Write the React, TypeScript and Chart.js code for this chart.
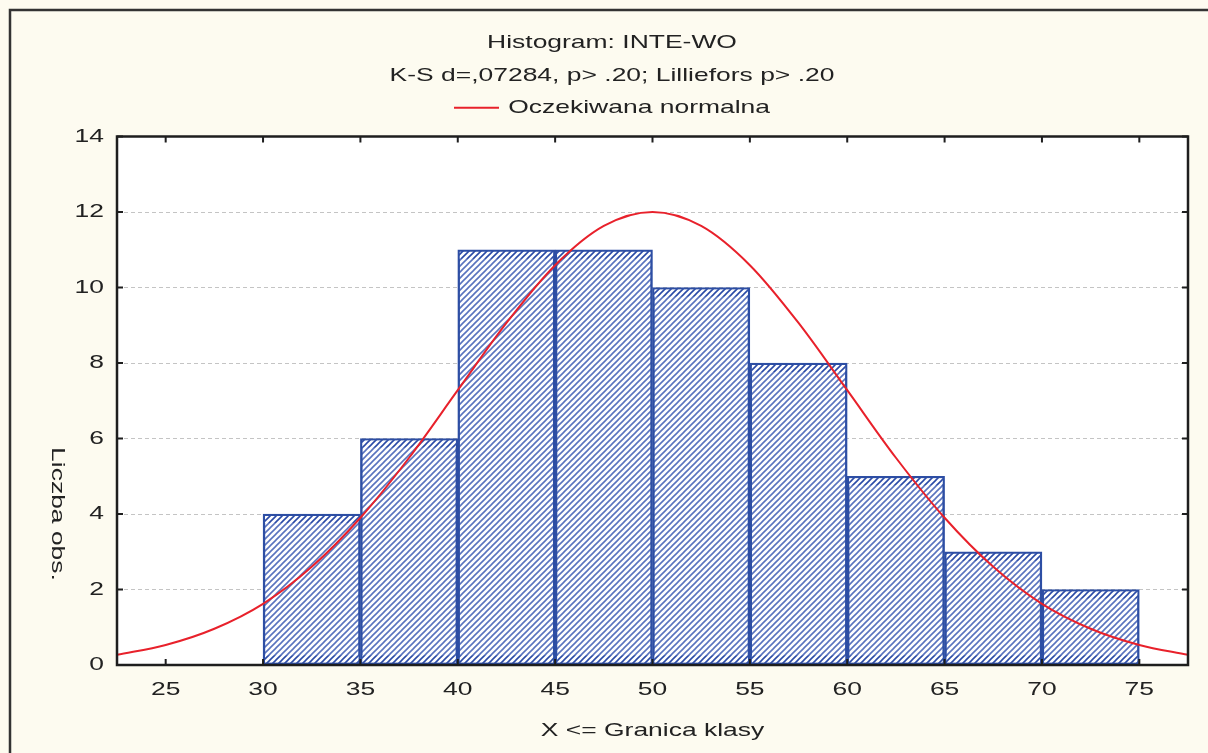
import { useEffect, useRef } from "react";
import { Chart, registerables } from "chart.js";

Chart.register(...registerables);

// Histogram classes (upper bound X <= Granica klasy), centers and counts
const classCenters = [27.5, 32.5, 37.5, 42.5, 47.5, 52.5, 57.5, 62.5, 67.5, 72.5];
const classCounts = [0, 4, 6, 11, 11, 10, 8, 5, 3, 2];

// Expected normal curve
const curveX = [22.5, 25, 27.5, 30, 32.5, 35, 37.5, 40, 42.5, 45, 47.5, 50, 52.5, 55, 57.5, 60, 62.5, 65, 67.5, 70, 72.5, 75, 77.5];
const curveY = [0.27, 0.53, 0.96, 1.62, 2.6, 3.9, 5.49, 7.28, 9.06, 10.59, 11.63, 12.0, 11.63, 10.59, 9.06, 7.28, 5.49, 3.9, 2.6, 1.62, 0.96, 0.53, 0.27];

const xTicks = [25, 30, 35, 40, 45, 50, 55, 60, 65, 70, 75];
const yTicks = [0, 2, 4, 6, 8, 10, 12, 14];

const titleLines = ["Histogram: INTE-WO", "K-S d=,07284, p> .20; Lilliefors p> .20"];
const legendLabel = "Oczekiwana normalna";
const xTitle = "X <= Granica klasy";
const yTitle = "Liczba obs.";

const FONT = "'Liberation Sans', Arial, sans-serif";
const FS = 18.5;
const TEXT = "#222222";
const STRETCH = 1.43; // the reference text is set in a wide face

function makePattern(size: number, color: string, lw: number, bg: string): CanvasPattern | string {
  const c = document.createElement("canvas");
  c.width = size;
  c.height = size;
  const g = c.getContext("2d");
  if (!g) return color;
  g.fillStyle = bg;
  g.fillRect(0, 0, size, size);
  g.strokeStyle = color;
  g.lineWidth = lw;
  g.beginPath();
  g.moveTo(-1, size + 1);
  g.lineTo(size + 1, -1);
  g.moveTo(-1, 1);
  g.lineTo(1, -1);
  g.moveTo(size - 1, size + 1);
  g.lineTo(size + 1, size - 1);
  g.stroke();
  const p = g.createPattern(c, "repeat");
  return p || color;
}

// widen all text drawn on this canvas horizontally
function widenText(ctx: any) {
  if (ctx.__widened) return;
  ctx.__widened = true;
  const origFill = ctx.fillText.bind(ctx);
  const origMeasure = ctx.measureText.bind(ctx);
  ctx.measureText = (t: string) => {
    const m = origMeasure(t);
    return {
      width: m.width * STRETCH,
      actualBoundingBoxAscent: m.actualBoundingBoxAscent,
      actualBoundingBoxDescent: m.actualBoundingBoxDescent,
      actualBoundingBoxLeft: m.actualBoundingBoxLeft * STRETCH,
      actualBoundingBoxRight: m.actualBoundingBoxRight * STRETCH,
    };
  };
  ctx.fillText = (t: string, x: number, y: number, maxW?: number) => {
    ctx.save();
    ctx.translate(x, y);
    ctx.scale(STRETCH, 1);
    if (maxW !== undefined) origFill(t, 0, 0, maxW / STRETCH);
    else origFill(t, 0, 0);
    ctx.restore();
  };
}

const framePlugin = {
  id: "framePlugin",
  beforeDraw(chart: any) {
    const { ctx, width, height, chartArea } = chart;
    ctx.save();
    ctx.fillStyle = "#fdfbf0";
    ctx.fillRect(0, 0, width, height);
    ctx.strokeStyle = "#333333";
    ctx.lineWidth = 2.5;
    ctx.beginPath();
    ctx.moveTo(10, height);
    ctx.lineTo(10, 10);
    ctx.lineTo(width, 10);
    ctx.stroke();
    ctx.fillStyle = "#ffffff";
    ctx.fillRect(chartArea.left, chartArea.top, chartArea.right - chartArea.left, chartArea.bottom - chartArea.top);
    ctx.restore();
  },
  afterDatasetDraw(chart: any, args: any) {
    if (args.index !== 1) return;
    // darker dotted strips along top and bottom inside each bar
    const { ctx } = chart;
    const strip = (chart as any).$strip;
    if (!strip) return;
    ctx.save();
    ctx.fillStyle = strip;
    args.meta.data.forEach((bar: any) => {
      const p = bar.getProps(["x", "y", "base", "width"], true);
      const h = p.base - p.y;
      if (h < 20) return;
      const l = p.x - p.width / 2 + 2;
      const w = p.width - 4;
      ctx.fillRect(l, p.y + 2, w, 7);
      ctx.fillRect(l, p.base - 9, w, 7);
    });
    ctx.restore();
  },
  afterDraw(chart: any) {
    const { ctx, chartArea } = chart;
    const xs = chart.scales.x;
    const ys = chart.scales.y;
    const { left, right, top, bottom } = chartArea;
    ctx.save();
    ctx.strokeStyle = "#1e1e1e";
    ctx.lineWidth = 2;
    const tl = 6;
    ctx.beginPath();
    xTicks.forEach((v) => {
      const px = xs.getPixelForValue(v);
      ctx.moveTo(px, top);
      ctx.lineTo(px, top + tl);
      ctx.moveTo(px, bottom);
      ctx.lineTo(px, bottom - tl);
    });
    yTicks.forEach((v) => {
      const py = ys.getPixelForValue(v);
      ctx.moveTo(left, py);
      ctx.lineTo(left + tl, py);
      ctx.moveTo(right, py);
      ctx.lineTo(right - tl, py);
    });
    ctx.stroke();
    ctx.lineWidth = 2.5;
    ctx.strokeRect(left, top, right - left, bottom - top);
    // rotated y-axis title (reads top to bottom)
    ctx.fillStyle = TEXT;
    ctx.font = `${FS}px ${FONT}`;
    ctx.textAlign = "center";
    ctx.textBaseline = "middle";
    ctx.translate(57, ys.getPixelForValue(4));
    ctx.rotate(Math.PI / 2);
    ctx.fillText(yTitle, 0, 0);
    ctx.restore();
  },
};

export default function App() {
  const ref = useRef<HTMLCanvasElement | null>(null);

  useEffect(() => {
    if (!ref.current) return;
    const c2d = ref.current.getContext("2d");
    if (c2d) widenText(c2d);
    const hatch = makePattern(6, "rgba(52,84,176,0.82)", 1.6, "#ffffff");
    const strip = makePattern(6, "#2a4aa6", 1.6, "#ffffff");
    const chart = new Chart(ref.current, {
      type: "bar",
      data: {
        datasets: [
          {
            type: "line",
            label: legendLabel,
            data: curveX.map((x, i) => ({ x, y: curveY[i] })),
            borderColor: "#e8212b",
            borderWidth: 2,
            pointRadius: 0,
            cubicInterpolationMode: "monotone",
            fill: false,
            order: 0,
          } as any,
          {
            type: "bar",
            label: "Liczba obs.",
            data: classCenters.map((x, i) => ({ x, y: classCounts[i] })),
            backgroundColor: hatch as any,
            borderColor: "#2d4ea4",
            borderWidth: 2.5,
            borderSkipped: false,
            barPercentage: 1,
            categoryPercentage: 1,
            order: 1,
          } as any,
        ],
      },
      options: {
        animation: false,
        responsive: false,
        maintainAspectRatio: false,
        layout: { padding: { left: 36, right: 20, top: 0, bottom: 0 } },
        plugins: {
          tooltip: { enabled: false },
          title: {
            display: true,
            text: titleLines,
            color: TEXT,
            font: { family: FONT, size: FS, weight: "normal", lineHeight: "33px" },
            padding: { top: 26, bottom: 0 },
          },
          legend: {
            display: true,
            position: "top",
            labels: {
              filter: (item: any) => item.datasetIndex === 0,
              usePointStyle: true,
              pointStyle: "line",
              pointStyleWidth: 45,
              color: TEXT,
              padding: 6.5,
              font: { family: FONT, size: FS },
            },
          },
        },
        scales: {
          x: {
            type: "linear",
            position: "bottom",
            offset: false,
            min: 22.5,
            max: 77.5,
            afterBuildTicks: (s: any) => {
              s.ticks = xTicks.map((v) => ({ value: v }));
            },
            afterFit: (s: any) => {
              s.height = 88;
            },
            grid: { display: false, drawTicks: false, offset: false },
            border: { display: false },
            ticks: {
              color: TEXT,
              padding: 14,
              maxRotation: 0,
              autoSkip: false,
              font: { family: FONT, size: FS },
            },
            title: {
              display: true,
              text: xTitle,
              color: TEXT,
              font: { family: FONT, size: FS },
              padding: { top: 0, bottom: 11 },
            },
          },
          x2: {
            type: "linear",
            position: "top",
            offset: false,
            min: 22.5,
            max: 77.5,
            afterFit: (s: any) => {
              s.height = 9.5;
            },
            grid: { display: false, drawTicks: false },
            border: { display: false },
            ticks: { display: false },
          },
          y: {
            type: "linear",
            min: 0,
            max: 14,
            afterBuildTicks: (s: any) => {
              s.ticks = yTicks.map((v) => ({ value: v }));
            },
            afterFit: (s: any) => {
              s.width = 81;
            },
            grid: {
              display: true,
              drawTicks: false,
              color: "#c4c4c4",
              lineWidth: 1,
            },
            border: { display: false, dash: [4, 3] },
            ticks: {
              color: TEXT,
              padding: 13,
              font: { family: FONT, size: FS },
            },
          },
        },
      },
      plugins: [framePlugin],
    } as any);
    (chart as any).$strip = strip;
    chart.draw();
    return () => chart.destroy();
  }, []);

  return (
    <div style={{ position: "fixed", left: 0, top: 0, width: 1208, height: 753 }}>
      <canvas ref={ref} width={1208} height={753} style={{ width: 1208, height: 753, display: "block" }} />
    </div>
  );
}
